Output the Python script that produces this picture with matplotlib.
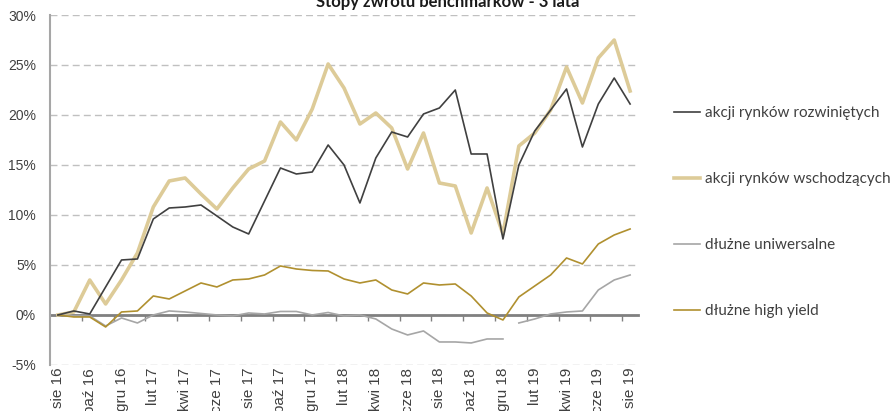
import matplotlib.pyplot as plt
from matplotlib.ticker import FuncFormatter

# miesiace: sie 16 .. sie 19
months = ['sie 16', 'wrz 16', 'paź 16', 'lis 16', 'gru 16', 'sty 17', 'lut 17', 'mar 17',
          'kwi 17', 'maj 17', 'cze 17', 'lip 17', 'sie 17', 'wrz 17', 'paź 17', 'lis 17',
          'gru 17', 'sty 18', 'lut 18', 'mar 18', 'kwi 18', 'maj 18', 'cze 18', 'lip 18',
          'sie 18', 'wrz 18', 'paź 18', 'lis 18', 'gru 18', 'sty 19', 'lut 19', 'mar 19',
          'kwi 19', 'maj 19', 'cze 19', 'lip 19', 'sie 19']

rozwiniete = [0.0, 0.4, 0.1, 2.8, 5.5, 5.6, 9.6, 10.7, 10.8, 11.0, 9.9, 8.8, 8.1,
              11.4, 14.7, 14.1, 14.3, 17.0, 15.0, 11.2, 15.7, 18.3, 17.8, 20.1, 20.7,
              22.5, 16.1, 16.1, 7.6, 15.0, 18.4, 20.5, 22.6, 16.8, 21.1, 23.7, 21.1]

wschodzace = [0.0, 0.3, 3.5, 1.1, 3.5, 6.2, 10.8, 13.4, 13.7, 12.1, 10.6, 12.7, 14.6,
              15.4, 19.3, 17.5, 20.6, 25.1, 22.7, 19.1, 20.2, 18.7, 14.6, 18.2, 13.2,
              12.9, 8.2, 12.7, 8.1, 16.9, 18.2, 20.5, 24.8, 21.2, 25.7, 27.5, 22.4]

uniwersalne = [0.0, -0.1, -0.1, -1.1, -0.3, -0.8, 0.0, 0.4, 0.3, 0.15, 0.0, -0.1, 0.2,
               0.1, 0.35, 0.35, 0.0, 0.25, -0.1, 0.0, -0.4, -1.4, -2.0, -1.6, -2.7,
               -2.7, -2.8, -2.4, -2.4, -0.8, -0.4, 0.1, 0.3, 0.4, 2.5, 3.5, 4.0]

high_yield = [0.0, -0.2, -0.2, -1.2, 0.3, 0.4, 1.9, 1.6, 2.4, 3.2, 2.8, 3.5, 3.6,
              4.0, 4.9, 4.6, 4.45, 4.4, 3.6, 3.2, 3.5, 2.5, 2.1, 3.2, 3.0,
              3.1, 1.9, 0.2, -0.5, 1.8, 2.9, 4.0, 5.7, 5.1, 7.1, 8.0, 8.6]

x = list(range(len(months)))
txt = '#404040'

fig = plt.figure(figsize=(8.93, 4.11), dpi=100)
ax = fig.add_axes([0.056, 0.112, 0.6585, 0.8515])

ax.plot(x, rozwiniete, color='#404040', lw=1.2, label='akcji rynków rozwiniętych', zorder=4)
ax.plot(x, wschodzace, color='#DDCB98', lw=2.6, label='akcji rynków wschodzących', zorder=3)
# przerwa w serii miedzy gru 18 a sty 19
ax.plot(x[:29], uniwersalne[:29], color='#A6A6A6', lw=1.2, label='dłużne uniwersalne', zorder=3)
ax.plot(x[29:], uniwersalne[29:], color='#A6A6A6', lw=1.2, zorder=3)
ax.plot(x, high_yield, color='#B0902F', lw=1.2, label='dłużne high yield', zorder=3)

ax.set_xlim(-0.5, len(months) - 0.5)
ax.set_ylim(-5, 30)
ax.set_yticks(range(-5, 31, 5))
ax.yaxis.set_major_formatter(FuncFormatter(lambda v, p: f'{v:.0f}%'))
ax.tick_params(axis='y', length=0, pad=10, labelsize=10, labelcolor=txt)
for t in ax.get_yticklabels():
    t.set_family('Liberation Sans')

ax.yaxis.grid(True, linestyle=(0, (5, 3)), color='#C0C0C0', lw=1)
ax.set_axisbelow(True)

ax.spines['top'].set_visible(False)
ax.spines['right'].set_visible(False)
ax.spines['left'].set_color('#A6A6A6')
ax.spines['left'].set_linewidth(1.5)
ax.spines['bottom'].set_position(('data', 0))
ax.spines['bottom'].set_color('#808080')
ax.spines['bottom'].set_linewidth(2)
ax.spines['bottom'].set_zorder(2)

# znaczniki co 2 miesiace na granicach kategorii, etykiety na dole
ax.set_xticks([i + 1.5 for i in range(0, len(months) - 2, 2)])
ax.set_xticklabels([])
ax.tick_params(axis='x', which='major', length=4, width=1, color='#808080', direction='out')
ax.set_xticks(x[::2], minor=True)
ax.set_xticklabels(months[::2], minor=True, rotation=90, family='Liberation Sans',
                   fontsize=11, color=txt)
ax.tick_params(axis='x', which='minor', length=0, pad=38)

fig.text(448 / 893, 1 - 7 / 411, 'Stopy zwrotu benchmarków - 3 lata', ha='center',
         va='baseline', fontsize=12, fontweight='bold', family='Lato', color='#1a1a1a')

fig.legend(loc='upper left', bbox_to_anchor=(668 / 893, 1 - 100 / 411), frameon=False,
           prop={'family': 'Lato', 'size': 11}, labelcolor=txt, handlelength=1.7,
           handletextpad=0.35, labelspacing=3.4, borderaxespad=0)

fig.savefig('out.png', dpi=100)
